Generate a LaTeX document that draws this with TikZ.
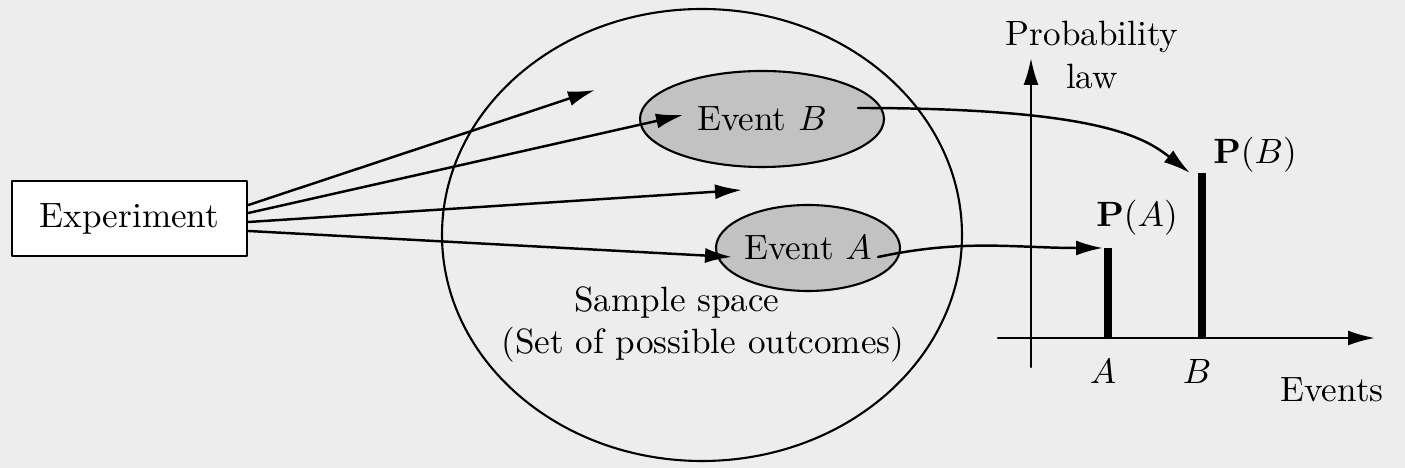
\documentclass[tikz,border=0pt]{standalone}
\usepackage{amsmath,amssymb}
\usetikzlibrary{arrows.meta,shapes.geometric,calc}

\begin{document}
\begin{tikzpicture}[line cap=round,line join=round,>={Latex[length=2.7mm,width=1.5mm]},x=1cm,y=1cm,
    box/.style={draw,line width=0.8pt,fill=white,minimum width=2.35cm,minimum height=0.75cm,inner sep=0pt},
    evt/.style={draw,line width=0.6pt,ellipse,fill=black!24,inner sep=0pt},
    conn/.style={->,line width=0.7pt},
    axis/.style={->,line width=0.7pt},
    bar/.style={line width=2.4pt,line cap=butt}]
                \fill [black!7] (0,0) rectangle (14.05,4.68);
                \useasboundingbox (0,0) rectangle (14.05,4.68);
                \node [box] (exp) at (1.295,2.495) {Experiment};
                \node [draw,line width=0.6pt,ellipse,minimum width=5.2cm,minimum height=4.52cm] (space) at (7.02,2.33) {};
                \node [evt,minimum width=2.44cm,minimum height=0.96cm] (evB) at (7.62,3.49) {Event $B$};
                \node [evt,minimum width=1.84cm,minimum height=0.86cm] (evA) at (8.08,2.20) {Event $A$};
                \node (ssA) at (6.77,1.65) {Sample space};
                \node (ssB) at (7.03,1.23) {(Set of possible outcomes)};
                \coordinate (s1) at ($(exp.east)+(0,0.135)$);
                \coordinate (s2) at ($(exp.east)+(0,0.055)$);
                \coordinate (s3) at ($(exp.east)+(0,-0.035)$);
                \coordinate (s4) at ($(exp.east)+(0,-0.125)$);
                \coordinate (t1) at (5.95,3.78);
                \coordinate (t2) at (6.83,3.53);
                \coordinate (t3) at (7.42,2.78);
                \coordinate (t4) at (7.32,2.11);
                \foreach \i in {1,...,4}
                    \draw [conn] (s\i) -- (t\i);
                \coordinate (o) at (10.31,1.30);
                \coordinate (ybot) at (10.31,1.01);
                \coordinate (ytop) at (10.31,4.10);
                \coordinate (xleft) at (9.98,1.30);
                \coordinate (xright) at (13.75,1.30);
                \draw [axis] (ybot) -- (ytop);
                \draw [axis] (xleft) -- (xright);
                \coordinate (barA) at (11.08,2.20);
                \coordinate (barB) at (12.02,2.95);
                \draw [bar] (barA |- o) -- (barA);
                \draw [bar] (barB |- o) -- (barB);
                \coordinate (tipA) at (11.03,2.20);
                \coordinate (tipB) at (11.90,2.95);
                \draw [conn] ($(evB.center)+(0.96,0.11)$) .. controls (11.0,3.60) and (11.45,3.30) .. (tipB);
                \draw [conn] ($(evA.center)+(0.70,-0.09)$) to[out=12,in=180] (tipA);
                \node [align=center] (law) at (10.92,4.13) {Probability\\law};
                \node (pA) at (11.37,2.50) {$\mathbf{P}(A)$};
                \node (pB) at (12.55,3.13) {$\mathbf{P}(B)$};
                \node (lA) at (11.03,0.96) {$A$};
                \node (lB) at (11.97,0.96) {$B$};
                \node (ev) at (13.32,0.78) {Events};
\end{tikzpicture}
\end{document}
